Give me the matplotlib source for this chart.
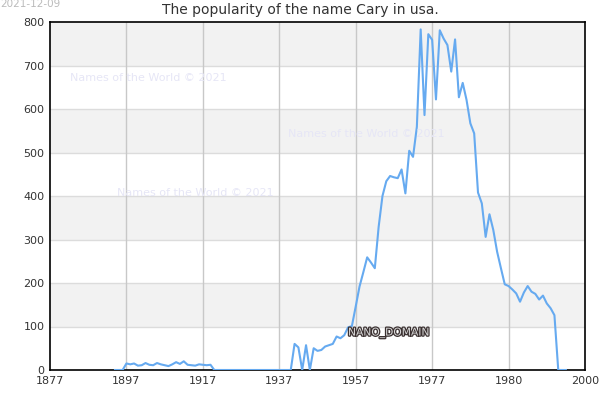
import numpy as np
import matplotlib.pyplot as plt
import matplotlib.patheffects as pe

# counts per year
early = [0, 0, 0,
         15, 13, 15, 10, 11, 16, 12, 11, 16, 13, 11, 9, 13, 18, 14, 20, 12, 11, 10, 13, 12,
         11, 12, 0]                  # 1894-1920
quiet = [0] * 19                     # 1921-1939
mid = [0, 60, 52, 0, 57, 0, 50, 44, 46, 54, 57,            # 1940-1950
       60, 77, 73, 80, 98, 101, 146, 192, 225, 259, 247, 234,
       329, 400, 434, 446, 443, 441, 461, 406, 504, 490, 559, 783]   # 1951-1974
late = [586, 772, 759, 622, 781, 762, 747, 686, 760, 627, 660, 621, 567, 544,
        408, 383, 306, 358, 322, 272, 234, 197, 193, 185, 176, 157, 178, 193,
        180, 175, 162, 171, 153, 142, 126, 0, 0, 0]   # 1975-2012
counts = np.array(early + quiet + mid + late, dtype=float)
years = np.arange(1894, 1894 + len(counts))

tick_pos = [1877, 1897, 1917, 1937, 1957, 1977, 1997, 2017]
tick_labels = ['1877', '1897', '1917', '1937', '1957', '1977', '1980', '2000']

fig = plt.figure(figsize=(6, 4), dpi=100)
ax = fig.add_axes([50 / 600, 1 - 370 / 400, 535 / 600, 348 / 400])

# alternating bands
for lo in range(100, 800, 200):
    ax.axhspan(lo, lo + 100, color='#f2f2f2', zorder=0, lw=0)
for v in range(100, 800, 100):
    ax.axhline(v, color='#dcdcdc', lw=1, zorder=1)
for t in tick_pos[1:-1]:
    ax.axvline(t, color='#c8c8c8', lw=1, zorder=1)

ax.plot(years, counts, color='#66aaf0', lw=1.5, zorder=3)

ax.set_xlim(1877, 2017)
ax.set_ylim(0, 800)
ax.set_xticks(tick_pos)
ax.set_xticklabels(tick_labels)
ax.set_yticks(range(0, 801, 100))
ax.tick_params(labelsize=8, colors='#333333', length=0, pad=4)
for s in ax.spines.values():
    s.set_color('black')
    s.set_linewidth(1.2)

fig.text(0.5, 1 - 10 / 400, 'The popularity of the name Cary in usa.',
         ha='center', va='center', fontsize=10, color='#333333')
fig.text(0.0, 1 - 4 / 400, '2021-12-09', ha='left', va='center',
         fontsize=7.5, color='#bbbbbb')

for x, y in [(70, 78), (288, 134), (117, 193)]:
    fig.text(x / 600, 1 - y / 400, 'Names of the World © 2021', ha='left',
             va='center', fontsize=8, color='#e6e6f6')

fig.text(348 / 600, 1 - 333 / 400, 'NANO_DOMAIN', ha='left', va='center',
         fontsize=7.7, color='#d8d8d8',
         path_effects=[pe.withStroke(linewidth=1.8, foreground='#3a3030')])

fig.savefig('out.png', dpi=100)
